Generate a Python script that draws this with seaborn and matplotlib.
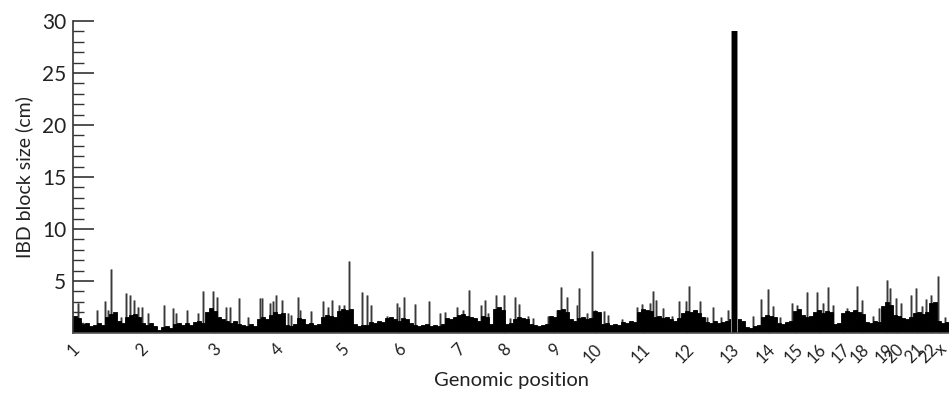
import numpy as np
import pandas as pd
import matplotlib
matplotlib.use("Agg")
import matplotlib.pyplot as plt
import matplotlib.transforms as mtransforms
import seaborn as sns

# ---------------- data (genomic position in marker units) ----------------
chrom_labels = [str(i) for i in range(1, 23)] + ["x"]
chrom_starts = [0, 68, 141, 204, 269, 326, 385, 431, 481, 522, 570, 614,
                659, 695, 723, 746, 770, 789, 814, 824, 844, 858, 867]
genome_end = 876

# background IBD block size profile (cM), one value per 4 marker units
envelope_step = 4
envelope = [
    1.6, 1.4, 0.9, 1.0, 0.7, 0.8, 1.0, 0.8, 1.5, 1.8,
    2.0, 1.2, 1.0, 1.5, 1.7, 1.8, 1.5, 1.0, 0.8, 1.0,
    0.7, 0.3, 0.6, 0.7, 0.5, 0.9, 1.0, 0.8, 1.0, 0.8,
    1.1, 1.2, 1.0, 2.0, 2.4, 2.1, 1.5, 1.3, 1.2, 1.0,
    1.2, 0.9, 0.8, 0.7, 0.9, 0.7, 1.3, 1.5, 1.3, 1.7,
    2.0, 1.8, 1.9, 0.8, 0.7, 0.9, 1.4, 1.3, 0.9, 1.0,
    0.8, 0.9, 1.5, 1.7, 1.6, 1.5, 2.1, 2.3, 2.2, 2.3,
    0.9, 0.7, 0.8, 0.8, 1.1, 1.0, 1.2, 1.1, 1.4, 1.5,
    1.3, 1.2, 1.4, 1.3, 1.0, 0.8, 0.7, 0.8, 0.9, 0.7,
    0.8, 0.7, 0.9, 1.4, 1.3, 1.5, 1.7, 1.8, 1.6, 1.5,
    1.4, 1.2, 1.6, 1.5, 0.9, 2.3, 2.5, 2.2, 0.9, 1.0,
    1.3, 1.5, 1.4, 1.3, 0.9, 0.8, 0.7, 0.8, 0.9, 1.6,
    1.5, 2.2, 2.3, 2.0, 1.3, 1.2, 1.4, 1.5, 1.3, 1.4,
    2.1, 2.0, 0.9, 1.0, 0.8, 0.9, 0.8, 1.1, 1.0, 1.2,
    1.1, 2.0, 2.3, 2.2, 2.1, 1.5, 1.6, 1.4, 1.5, 1.3,
    1.2, 1.4, 1.9, 2.1, 2.0, 2.2, 1.9, 1.5, 1.1, 1.0,
    1.2, 1.0, 1.1, 1.2, 1.3, 1.3, 1.3, 1.2, 0.6, 0.5,
    0.7, 0.8, 1.5, 1.7, 1.6, 1.5, 1.0, 0.9, 1.1, 1.2,
    2.1, 2.3, 1.7, 1.5, 1.6, 2.0, 2.2, 1.9, 2.1, 2.0,
    0.9, 1.0, 1.9, 2.1, 2.0, 2.2, 2.0, 1.8, 1.1, 1.0,
    1.2, 1.1, 2.6, 3.0, 2.7, 1.7, 1.6, 1.4, 1.3, 1.5,
    1.9, 2.0, 1.8, 2.0, 2.9, 3.0, 1.2, 1.0, 1.1,
]

# individual narrow IBD peaks: position and size (cM)
spike_pos = [
    5.3, 23.7, 32.0, 35.3, 37.7, 48.0, 52.7, 57.0, 61.0, 65.3, 68.7, 75.3,
    91.0, 100.3, 103.0, 113.7, 125.3, 130.3, 139.7, 143.7, 152.7, 157.0,
    166.0, 175.3, 187.0, 189.3, 197.0, 200.3,
    203.0, 208.7, 215.3, 217.7, 224.7, 227.0, 237.7, 249.7, 255.3, 259.0,
    266.3, 271.0, 275.7, 289.3, 293.7, 297.7, 313.7, 323.7, 325.7, 330.7,
    341.7, 355.7, 367.0, 372.0, 384.3, 390.3, 396.0, 408.3, 412.0,
    415.3, 422.7, 431.0, 437.0, 442.0, 445.7, 455.3, 460.3, 475.3, 483.7,
    488.0, 494.3, 503.7, 506.3, 513.7, 519.3, 522.0, 531.0, 534.7, 549.3,
    563.7, 568.7, 577.0, 580.3, 582.7, 589.7, 598.7, 606.3, 612.7, 616.0,
    623.0,
    627.0, 633.7, 639.7, 647.7, 655.3, 680.3, 687.7, 695.3, 700.3, 707.0,
    719.0, 723.7, 734.3, 744.3, 749.7, 754.7, 759.7, 773.7, 784.3, 788.7,
    799.7, 806.0, 814.0, 817.0, 822.7, 827.7, 837.7, 843.0, 848.7, 853.0,
    857.7, 865.3, 872.0,
]
spike_val = [
    2.9, 2.2, 3.1, 2.2, 6.2, 1.5, 3.8, 3.7, 3.2, 2.5, 2.5, 1.9,
    2.7, 2.4, 1.9, 2.2, 1.9, 4.0, 4.0, 3.5, 2.5, 2.5,
    3.4, 1.5, 3.4, 3.4, 2.9, 3.1,
    3.7, 3.2, 1.9, 1.7, 3.5, 2.2, 2.1, 3.1, 2.5, 3.2,
    2.7, 2.7, 6.9, 3.9, 3.7, 2.7, 1.6, 2.9, 2.5, 3.5,
    2.8, 3.1, 1.9, 2.0, 2.5, 2.2, 4.1, 2.7, 3.2,
    1.9, 3.7, 3.7, 1.4, 3.5, 2.8, 1.6, 1.4, 1.6, 2.2,
    4.4, 3.5, 2.7, 4.3, 1.9, 7.9, 2.2, 2.1, 1.7, 1.3,
    2.5, 2.8, 2.9, 4.0, 3.2, 2.4, 1.6, 3.1, 3.1, 4.5,
    2.2,
    3.1, 1.5, 2.5, 1.5, 2.2, 1.6, 3.3, 4.2, 2.6, 1.5,
    2.9, 2.7, 3.9, 3.9, 2.9, 4.4, 2.7, 2.4, 4.5, 3.2,
    1.6, 2.4, 5.1, 4.3, 3.4, 2.9, 3.7, 4.3, 2.6, 3.3,
    3.7, 5.5, 1.5,
]

# the large shared block on chromosome 13
peak_start, peak_end, peak_height = 658.7, 664.3, 29.0

y_ticks = [5, 10, 15, 20, 25, 30]

# ---------------- figure ----------------
sns.set_theme(style="white")
plt.rcParams["font.family"] = ["Lato", "DejaVu Sans"]

W, H = 949, 393
fig = plt.figure(figsize=(W / 100, H / 100), dpi=100)
ax = fig.add_axes([73 / W, 1 - 333 / H, (W - 73) / W, (333 - 21) / H])

# narrow peaks first, so the dense background covers their lower part
spk_df = pd.DataFrame({"pos": spike_pos, "size": spike_val})
ax.vlines(spk_df["pos"], 0, spk_df["size"], color="#9a9a9a", lw=1.8, zorder=0.5)
ax.vlines(spk_df["pos"], 0, spk_df["size"], color="#3a3a3a", lw=0.9, zorder=0.6)

env_df = pd.DataFrame({
    "pos": np.arange(len(envelope)) * envelope_step + envelope_step / 2,
    "size": envelope,
})
sns.histplot(data=env_df, x="pos", weights="size", binwidth=envelope_step,
             binrange=(0, len(envelope) * envelope_step),
             color="black", alpha=1, linewidth=0.6, edgecolor="black",
             element="bars", ax=ax, zorder=1)

# gray halo like the reference anti-aliasing
ax.fill_between([peak_start - 0.6, peak_end + 0.6], 0, peak_height,
                color="#8a8a8a", lw=0, zorder=2)
ax.fill_between([peak_start, peak_end], 0, peak_height, color="black", lw=0,
                zorder=2.1)

ax.set_xlim(0, genome_end)
ax.set_ylim(0, 30)

# axes styling
for s in ["top", "right"]:
    ax.spines[s].set_visible(False)
ax.spines["left"].set_color("#333333")
ax.spines["left"].set_linewidth(1.2)
ax.spines["bottom"].set_color("#555555")
ax.spines["bottom"].set_linewidth(1.2)

ax.set_yticks(y_ticks)
ax.set_yticks(np.arange(1, 30), minor=True)
ax.tick_params(axis="y", which="major", direction="in", length=15, width=1.2,
               color="#333333", labelsize=15, labelcolor="#222222", pad=5,
               left=True)
ax.tick_params(axis="y", which="minor", direction="in", length=8, width=1.0,
               color="#333333", left=True)

ax.set_xticks(chrom_starts)
ax.set_xticklabels(chrom_labels, rotation=45, ha="right", va="top")
ax.tick_params(axis="x", which="major", direction="in", length=8, width=1.0,
               color="#666666", labelsize=12, labelcolor="#222222", pad=6,
               bottom=True)
offset = mtransforms.ScaledTranslation(10 / 100, 0, fig.dpi_scale_trans)
for lab in ax.get_xticklabels():
    lab.set_transform(lab.get_transform() + offset)

ax.set_xlabel("Genomic position", fontsize=14.5, color="#222222")
ax.set_ylabel("IBD block size (cm)", fontsize=14, color="#222222")
ax.xaxis.set_label_coords(0.5, -39 / 312)
ax.yaxis.set_label_coords(-40 / 876, 0.5)
ax.grid(False)

fig.savefig("out.png", dpi=100)
